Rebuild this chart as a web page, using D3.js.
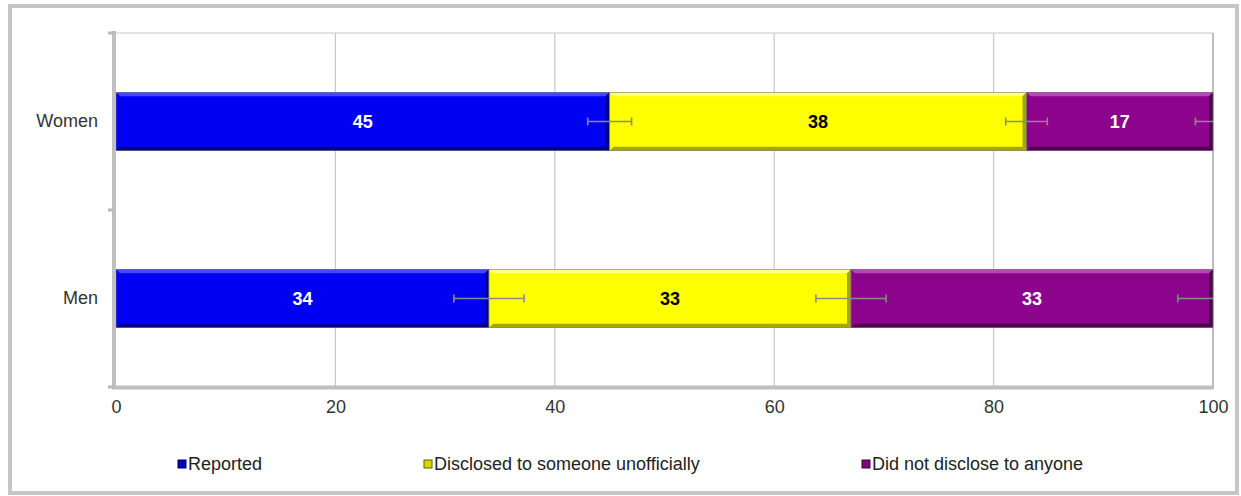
<!DOCTYPE html>
<html>
<head>
<meta charset="utf-8">
<script src="https://cdn.jsdelivr.net/npm/d3@7"></script>
<style>
  html, body { margin: 0; padding: 0; background: #ffffff; }
  svg { display: block; }
  text { font-family: Arial, "Liberation Sans", sans-serif; }
</style>
</head>
<body>
<svg id="chart" width="1241" height="496"></svg>
<script>
// ---- data ----
const categories = ["Women", "Men"];
const seriesNames = ["Reported", "Disclosed to someone unofficially", "Did not disclose to anyone"];
const reported = [45, 34];
const disclosed = [38, 33];
const notDisclosed = [17, 33];
const reportedErr = [2.0, 3.2];
const disclosedErr = [1.9, 3.2];
const notDisclosedErr = [1.6, 3.2];
const xTicks = [0, 20, 40, 60, 80, 100];

// ---- styles ----
const palette = [
  { main: "#0000f2", light: "#4646ff", dark: "#00008c", text: "#ffffff", mark: "#0000c0", markStroke: "#000060" },
  { main: "#ffff00", light: "#ffff90", dark: "#a6a600", text: "#000000", mark: "#d8d800", markStroke: "#606000" },
  { main: "#8c038c", light: "#b848b8", dark: "#4e004e", text: "#ffffff", mark: "#7a0a7a", markStroke: "#400040" }
];
const legendX = [178, 424, 862];

const svg = d3.select("#chart");

// outer frame
svg.append("rect")
  .attr("x", 10).attr("y", 6).attr("width", 1227).attr("height", 487)
  .attr("fill", "#ffffff").attr("stroke", "#c6c6c6").attr("stroke-width", 4);

const pLeft = 116, pRight = 1213, pTop = 33, pBottom = 387;

const x = d3.scaleLinear().domain([0, 100]).range([pLeft, pRight]);
const y = d3.scaleBand().domain(categories).range([pTop, pBottom])
  .paddingInner(0.67).paddingOuter(0.335);

// gridlines
svg.append("g").selectAll("line").data(xTicks.filter(d => d > 0)).join("line")
  .attr("x1", d => x(d)).attr("x2", d => x(d))
  .attr("y1", pTop).attr("y2", pBottom)
  .attr("stroke", "#c8c8c8").attr("stroke-width", 1.2);

// top border of plot
svg.append("line").attr("x1", pLeft - 2).attr("x2", pRight).attr("y1", pTop).attr("y2", pTop)
  .attr("stroke", "#c8c8c8").attr("stroke-width", 1.2);
// right wall edge
svg.append("line").attr("x1", pRight).attr("x2", pRight).attr("y1", pTop).attr("y2", pBottom)
  .attr("stroke", "#bdbdbd").attr("stroke-width", 2);

// stacked data
const seriesVals = [reported, disclosed, notDisclosed];
const seriesErr = [reportedErr, disclosedErr, notDisclosedErr];
const rows = categories.map((c, i) => {
  const o = { cat: c };
  seriesNames.forEach((s, j) => o[s] = seriesVals[j][i]);
  return o;
});
const stack = d3.stack().keys(seriesNames)(rows);

const b = 4; // bevel size
const barsG = svg.append("g");
stack.forEach((layer, si) => {
  const col = palette[si];
  layer.forEach((d, ci) => {
    const x0 = x(d[0]), x1 = x(d[1]);
    const y0 = y(d.data.cat), h = y.bandwidth(), y1 = y0 + h;
    const g = barsG.append("g");
    g.append("rect").attr("x", x0).attr("y", y0).attr("width", x1 - x0).attr("height", h)
      .attr("fill", col.main);
    g.append("polygon").attr("points", [[x0, y0], [x1, y0], [x1 - b, y0 + b], [x0 + b, y0 + b]].join(" "))
      .attr("fill", col.light);
    g.append("polygon").attr("points", [[x0, y1], [x1, y1], [x1 - b, y1 - b], [x0 + b, y1 - b]].join(" "))
      .attr("fill", col.dark);
    g.append("polygon").attr("points", [[x1, y0], [x1, y1], [x1 - b, y1 - b], [x1 - b, y0 + b]].join(" "))
      .attr("fill", col.dark);
    g.append("rect").attr("x", x0).attr("y", y0).attr("width", x1 - x0).attr("height", h)
      .attr("fill", "none").attr("stroke", "#7a7a7a").attr("stroke-width", 0.6);
  });
});

// error bars (clipped to the plot)
svg.append("clipPath").attr("id", "plotClip").append("rect")
  .attr("x", pLeft).attr("y", pTop).attr("width", pRight - pLeft).attr("height", pBottom - pTop);
const errG = svg.append("g").attr("clip-path", "url(#plotClip)");
stack.forEach((layer, si) => {
  layer.forEach((d, ci) => {
    const e = seriesErr[si][ci];
    const cy = y(d.data.cat) + y.bandwidth() / 2;
    const xa = x(d[1] - e), xb = x(d[1] + e);
    errG.append("line").attr("x1", xa).attr("x2", xb).attr("y1", cy).attr("y2", cy)
      .attr("stroke", "#8a8a8a").attr("stroke-width", 1.6);
    [xa, xb].forEach(xx => errG.append("line").attr("x1", xx).attr("x2", xx)
      .attr("y1", cy - 4).attr("y2", cy + 4).attr("stroke", "#8a8a8a").attr("stroke-width", 1.6));
  });
});

// value labels
stack.forEach((layer, si) => {
  svg.append("g").selectAll("text").data(layer).join("text")
    .attr("x", d => (x(d[0]) + x(d[1])) / 2)
    .attr("y", d => y(d.data.cat) + y.bandwidth() / 2)
    .attr("dy", "0.36em")
    .attr("text-anchor", "middle")
    .attr("font-size", 18).attr("font-weight", "bold")
    .attr("fill", palette[si].text)
    .text(d => d[1] - d[0]);
});

// axes lines
svg.append("line").attr("x1", 114).attr("x2", 114).attr("y1", pTop - 2).attr("y2", pBottom + 2)
  .attr("stroke", "#c0c0c0").attr("stroke-width", 4);
svg.append("line").attr("x1", 112).attr("x2", pRight + 1).attr("y1", pBottom + 0.5).attr("y2", pBottom + 0.5)
  .attr("stroke", "#c0c0c0").attr("stroke-width", 4);
// category boundary ticks
svg.append("g").selectAll("line").data([pTop, (pTop + pBottom) / 2, pBottom]).join("line")
  .attr("x1", 108).attr("x2", 114).attr("y1", d => d).attr("y2", d => d)
  .attr("stroke", "#b8b8b8").attr("stroke-width", 3);

// x axis labels
const xAxis = svg.append("g").attr("transform", `translate(0,${pBottom + 13})`)
  .call(d3.axisBottom(x).tickValues(xTicks).tickSize(0).tickPadding(0));
xAxis.select(".domain").remove();
xAxis.selectAll("text").attr("font-size", 18).attr("fill", "#333333")
  .attr("font-family", "Arial, 'Liberation Sans', sans-serif");

// y axis labels
const yAxis = svg.append("g").attr("transform", `translate(98,0)`)
  .call(d3.axisLeft(y).tickSize(0).tickPadding(0));
yAxis.select(".domain").remove();
yAxis.selectAll("text").attr("font-size", 18).attr("fill", "#333333")
  .attr("font-family", "Arial, 'Liberation Sans', sans-serif");

// legend
const legend = svg.append("g");
seriesNames.forEach((s, i) => {
  legend.append("rect").attr("x", legendX[i]).attr("y", 460).attr("width", 8).attr("height", 8)
    .attr("fill", palette[i].mark).attr("stroke", palette[i].markStroke).attr("stroke-width", 1);
  legend.append("text").attr("x", legendX[i] + 10).attr("y", 464).attr("dy", "0.35em")
    .attr("font-size", 18).attr("fill", "#222222").text(s);
});
</script>
</body>
</html>
